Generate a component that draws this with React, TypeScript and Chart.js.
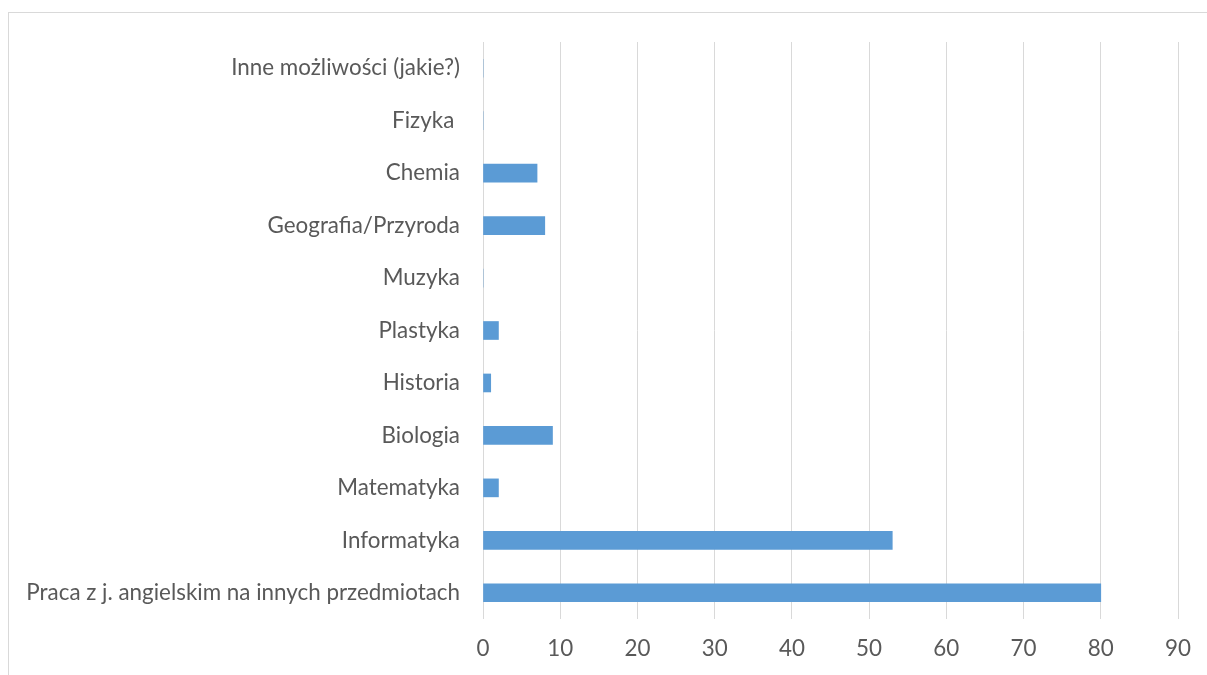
import React, { useEffect, useRef } from "react";
import { Chart, registerables } from "chart.js";

Chart.register(...registerables);

const categories = [
  "Inne możliwości (jakie?)",
  "Fizyka ",
  "Chemia",
  "Geografia/Przyroda",
  "Muzyka",
  "Plastyka",
  "Historia",
  "Biologia",
  "Matematyka",
  "Informatyka",
  "Praca z j. angielskim na innych przedmiotach",
];
const values = [0, 0, 7, 8, 0, 2, 1, 9, 2, 53, 80];
const xMin = 0;
const xMax = 90;
const xStep = 10;

const FONT = "Lato, 'Open Sans', sans-serif";
const TEXT = "#595959";
const GRID = "#d9d9d9";
const BAR = "#5b9bd5";

export default function App() {
  const ref = useRef<HTMLCanvasElement | null>(null);
  useEffect(() => {
    if (!ref.current) return;
    const chart = new Chart(ref.current, {
      type: "bar",
      data: {
        labels: categories,
        datasets: [
          {
            data: values,
            backgroundColor: BAR,
            borderWidth: 0,
            barThickness: 18,
          },
        ],
      },
      options: {
        indexAxis: "y",
        animation: false,
        responsive: false,
        maintainAspectRatio: false,
        layout: { padding: { top: 42, right: 29, bottom: 0, left: 0 } },
        plugins: { legend: { display: false }, tooltip: { enabled: false } },
        scales: {
          x: {
            min: xMin,
            max: xMax,
            ticks: {
              stepSize: xStep,
              color: TEXT,
              font: { family: FONT, size: 22.4 },
              padding: 16,
            },
            grid: { color: GRID, lineWidth: 1, drawTicks: false },
            border: { display: false },
            afterFit: (s: any) => {
              s.height = 56;
            },
          },
          y: {
            ticks: {
              color: TEXT,
              font: { family: FONT, size: 22.4 },
              padding: 23,
              autoSkip: false,
            },
            grid: { display: false, drawTicks: false },
            border: { display: false },
            afterFit: (s: any) => {
              s.width = 483;
            },
          },
        },
      },
    });
    return () => chart.destroy();
  }, []);
  return (
    <div style={{ position: "fixed", left: 0, top: 0, width: 1207, height: 675, overflow: "hidden", background: "#fff" }}>
      <div
        style={{
          position: "absolute",
          left: 8,
          top: 12,
          width: 1220,
          height: 700,
          border: "1px solid #d9d9d9",
          boxSizing: "border-box",
        }}
      />
      <canvas ref={ref} width={1207} height={675} style={{ position: "absolute", left: 0, top: 0 }} />
    </div>
  );
}
